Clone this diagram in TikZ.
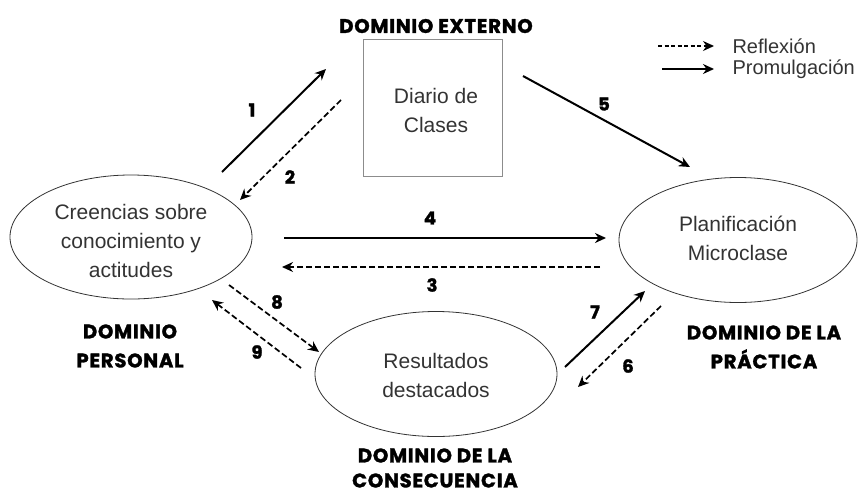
\documentclass[tikz,border=0pt]{standalone}
\usepackage{fontspec}
\setmainfont{Liberation Sans}
\newfontfamily\headfont{Poppins}[BoldFeatures={FakeBold=1.6,LetterSpace=4}]
\usetikzlibrary{shapes.geometric,arrows.meta}
\definecolor{txt}{HTML}{333333}
\tikzset{
  body/.style={font=\fontsize{21}{29}\selectfont, text=txt, align=center},
  ell/.style={ellipse, draw=txt, line width=0.8pt, inner sep=0pt},
  head/.style={font=\headfont\bfseries\fontsize{19.6}{29}\selectfont, align=center, text=black},
  num/.style={font=\headfont\bfseries\fontsize{18}{18}\selectfont, text=black},
  prom/.style={line width=2pt, -{Stealth[length=11pt,width=10pt]}},
  refl/.style={line width=1.7pt, dash pattern=on 6pt off 3pt, -{Stealth[length=11pt,width=10pt]}},
}
\begin{document}
\begin{tikzpicture}[x=1pt,y=-1pt]
\useasboundingbox (0,0) rectangle (859,493);
% nodes
\node[ell, minimum width=242pt, minimum height=124pt] (per) at (131,237) {};
\node[body] at (131,241) {Creencias sobre\\conocimiento y\\actitudes};
\node[ell, minimum width=238pt, minimum height=125pt] (pra) at (738,240) {};
\node[body] at (738,238) {Planificación\\Microclase};
\node[ell, minimum width=242pt, minimum height=125pt] (con) at (436,374) {};
\node[body] at (436,375) {Resultados\\destacados};
\node[draw=black!45, line width=0.9pt, minimum width=139pt, minimum height=137pt, inner sep=0pt] (box) at (432.5,107.5) {};
\node[body] at (436,110) {Diario de\\Clases};
% heads
\node[head] (hext) at (436,26) {DOMINIO EXTERNO};
\node[head] (hper) at (130,346) {DOMINIO\\PERSONAL};
\node[head] (hpra) at (764,347) {DOMINIO DE LA\\PRÁCTICA};
\node[head, font=\headfont\bfseries\fontsize{19.6}{25}\selectfont] (hcon) at (435,468) {DOMINIO DE LA\\CONSECUENCIA};
% arrow endpoints
\coordinate (a1s) at (222,172); \coordinate (a1e) at (326,69);
\coordinate (a2s) at (341,100); \coordinate (a2e) at (240,200);
\coordinate (a5s) at (523,76);  \coordinate (a5e) at (690,167);
\coordinate (a4s) at (284,238); \coordinate (a4e) at (606,238);
\coordinate (a3s) at (600,267); \coordinate (a3e) at (282,267);
\coordinate (a8s) at (229,285); \coordinate (a8e) at (319,352);
\coordinate (a9s) at (301,368); \coordinate (a9e) at (212,300);
\coordinate (a7s) at (565,367); \coordinate (a7e) at (645,291);
\coordinate (a6s) at (661,306); \coordinate (a6e) at (578,387);
\draw[prom] (a1s) -- (a1e);
\draw[refl] (a2s) -- (a2e);
\draw[prom] (a5s) -- (a5e);
\draw[prom] (a4s) -- (a4e);
\draw[refl] (a3s) -- (a3e);
\draw[refl] (a8s) -- (a8e);
\draw[refl] (a9s) -- (a9e);
\draw[prom] (a7s) -- (a7e);
\draw[refl] (a6s) -- (a6e);
% numbers
\node[num] (n1) at (252,110) {1};
\node[num] (n2) at (290,177) {2};
\node[num] (n5) at (604,104) {5};
\node[num] (n4) at (430,218) {4};
\node[num] (n3) at (432,285) {3};
\node[num] (n8) at (277,302) {8};
\node[num] (n9) at (257,352) {9};
\node[num] (n7) at (595,312) {7};
\node[num] (n6) at (628,366) {6};
% legend
\coordinate (l1s) at (658,46); \coordinate (l1e) at (714,46);
\coordinate (l2s) at (662,69); \coordinate (l2e) at (714,69);
\draw[refl, line width=1.4pt, dash pattern=on 4pt off 2.5pt] (l1s) -- (l1e);
\draw[prom, line width=1.6pt] (l2s) -- (l2e);
\node[body, font=\fontsize{20}{24}\selectfont, anchor=west] (lr) at (729,46) {Reflexión};
\node[body, font=\fontsize{20}{24}\selectfont, anchor=west] (lp) at (729,69) {Promulgación};
\end{tikzpicture}
\end{document}
